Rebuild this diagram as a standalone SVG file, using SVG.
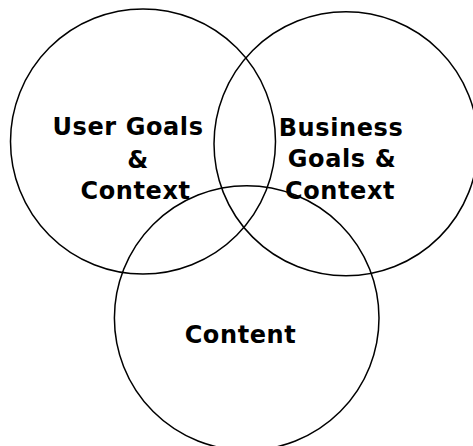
<svg xmlns="http://www.w3.org/2000/svg" width="473" height="446" viewBox="0 0 473 446">
<style>
.c{fill:none;stroke:#000;stroke-width:1.5}
.t{font-family:"DejaVu Sans",Verdana,sans-serif;font-weight:bold;font-size:24px;fill:#000;text-anchor:middle;letter-spacing:0.6px}
</style>
<rect width="473" height="446" fill="#fff"/>
<g id="user">
<circle class="c" cx="143" cy="141.5" r="132.5"/>
<text class="t"><tspan x="128" y="135">User Goals</tspan><tspan x="138" y="168">&amp;</tspan><tspan x="135.5" y="199">Context</tspan></text>
</g>
<g id="business">
<circle class="c" cx="346" cy="143.8" r="132"/>
<text class="t"><tspan x="341" y="136">Business</tspan><tspan x="342" y="167">Goals &amp;</tspan><tspan x="340" y="199">Context</tspan></text>
</g>
<g id="content">
<circle class="c" cx="246.7" cy="318" r="132.3"/>
<text class="t"><tspan x="240.5" y="343">Content</tspan></text>
</g>
<g id="connectors"/>
</svg>
